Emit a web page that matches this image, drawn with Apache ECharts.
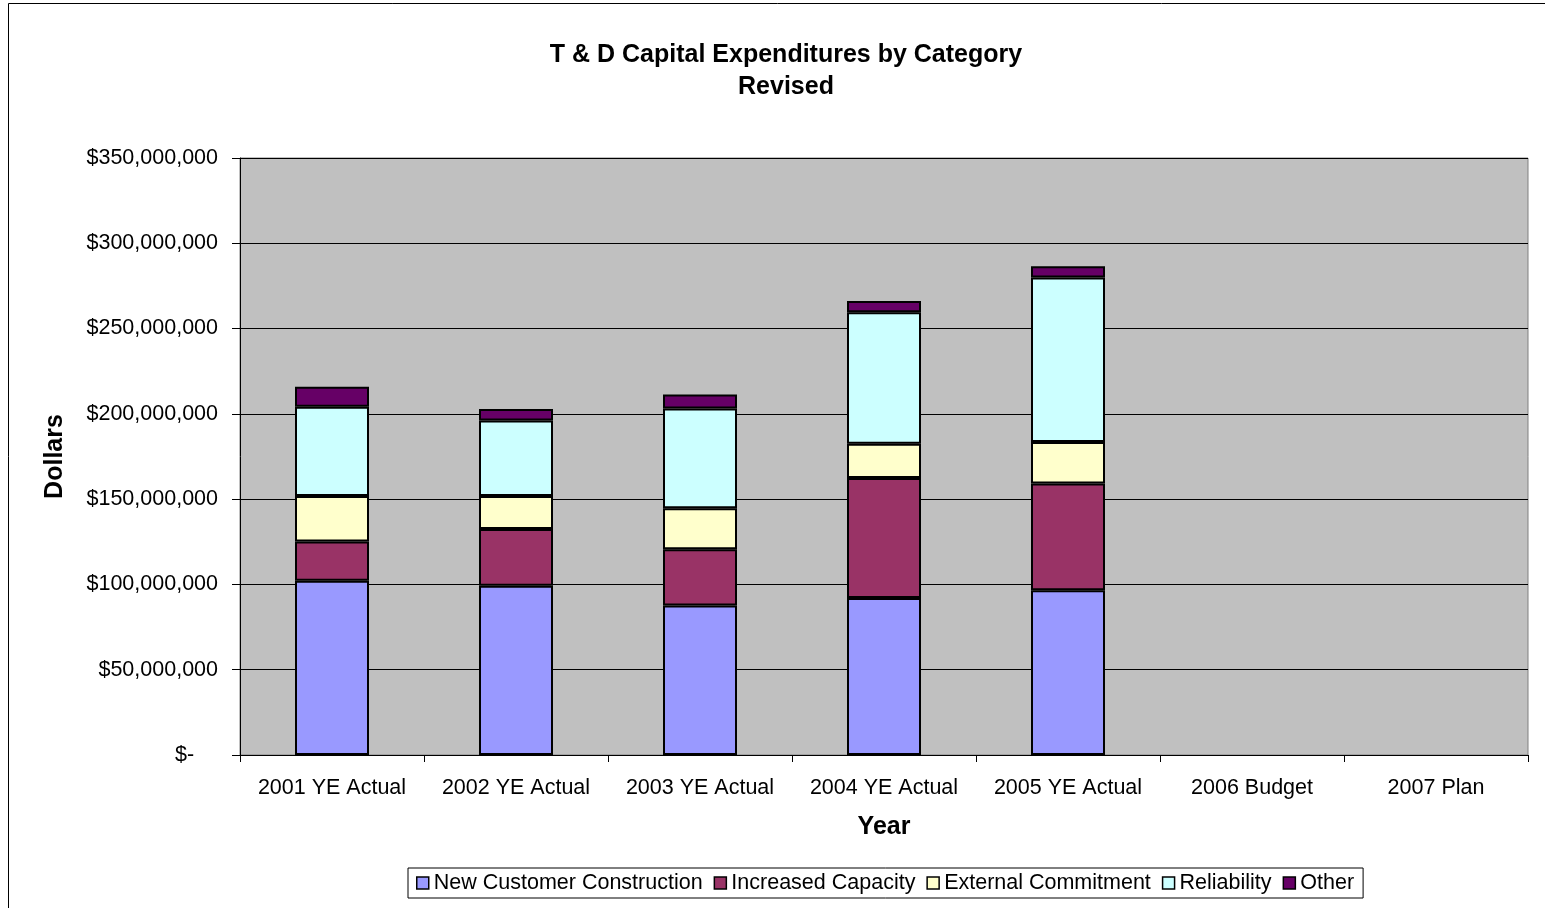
<!DOCTYPE html>
<html>
<head>
<meta charset="utf-8">
<script src="https://cdn.jsdelivr.net/npm/echarts@6/dist/echarts.min.js"></script>
<style>
  html, body { margin: 0; padding: 0; background: #fff; }
  #main { width: 1545px; height: 908px; }
</style>
</head>
<body>
<div id="main"></div>
<script>
var categories = ['2001 YE Actual', '2002 YE Actual', '2003 YE Actual', '2004 YE Actual', '2005 YE Actual', '2006 Budget', '2007 Plan'];
var seriesNames = ['New Customer Construction', 'Increased Capacity', 'External Commitment', 'Reliability', 'Other'];
var newCustomer = [102100000, 99200000, 87600000, 92100000, 96600000, null, null];
var increasedCapacity = [23000000, 33300000, 33000000, 70300000, 62600000, null, null];
var externalCommitment = [26800000, 19400000, 24100000, 20100000, 24300000, null, null];
var reliability = [52200000, 44200000, 58400000, 77100000, 96500000, null, null];
var other = [11800000, 6800000, 8300000, 6500000, 6500000, null, null];
var colors = ['#9999FF', '#993366', '#FFFFCC', '#CCFFFF', '#660066'];

var chartDom = document.getElementById('main');
var myChart = echarts.init(chartDom);
var option;

var allData = [newCustomer, increasedCapacity, externalCommitment, reliability, other];

option = {
    animation: false,
    textStyle: { fontFamily: 'Liberation Sans, Arial, sans-serif', color: '#000' },
    title: {
        text: 'T & D Capital Expenditures by Category\nRevised',
        left: 781,
        textAlign: 'center',
        top: 34,
        textStyle: { fontSize: 25, fontWeight: 'bold', lineHeight: 32, color: '#000' }
    },
    graphic: [{
        type: 'rect',
        shape: { x: 8.5, y: 3.5, width: 1600, height: 1000 },
        style: { fill: 'none', stroke: '#000', lineWidth: 1 },
        silent: true
    }],
    legend: {
        bottom: 10,
        left: 408,
        itemWidth: 12,
        itemHeight: 12,
        itemGap: 11,
        padding: [4, 9, 4, 8],
        borderColor: '#000',
        borderWidth: 1,
        icon: 'rect',
        itemStyle: { borderColor: '#000', borderWidth: 1.5 },
        textStyle: { fontSize: 21.5, color: '#000' },
        data: seriesNames
    },
    grid: {
        left: 240,
        right: 17,
        top: 158,
        bottom: 153,
        show: true,
        backgroundColor: '#C0C0C0',
        borderColor: '#808080',
        borderWidth: 1
    },
    xAxis: {
        type: 'category',
        data: categories,
        name: 'Year',
        nameLocation: 'middle',
        nameGap: 60,
        nameTextStyle: { fontSize: 25, fontWeight: 'bold', color: '#000' },
        axisLine: { lineStyle: { color: '#000', width: 1 } },
        axisTick: { show: true, length: 7, lineStyle: { color: '#000' } },
        axisLabel: { fontSize: 21.5, color: '#000', margin: 22, interval: 0 }
    },
    yAxis: {
        type: 'value',
        min: 0,
        max: 350000000,
        interval: 50000000,
        name: 'Dollars',
        nameLocation: 'middle',
        nameGap: 172,
        nameTextStyle: { fontSize: 25, fontWeight: 'bold', color: '#000' },
        axisLine: { show: true, lineStyle: { color: '#000' } },
        axisTick: { show: true, length: 8, lineStyle: { color: '#000' } },
        splitLine: { lineStyle: { color: '#000', width: 1 } },
        axisLabel: {
            fontSize: 21.5,
            color: '#000',
            margin: 22,
            formatter: function (v) {
                if (v === 0) return '$-    ';
                return '$' + v.toLocaleString('en-US');
            }
        }
    },
    series: seriesNames.map(function (name, i) {
        return {
            name: name,
            type: 'bar',
            stack: 'total',
            barWidth: 74,
            data: allData[i],
            itemStyle: {
                color: colors[i],
                borderColor: '#000',
                borderWidth: 2
            }
        };
    })
};

option && myChart.setOption(option);
window.onresize = function () {
    myChart.resize();
};
</script>
</body>
</html>
